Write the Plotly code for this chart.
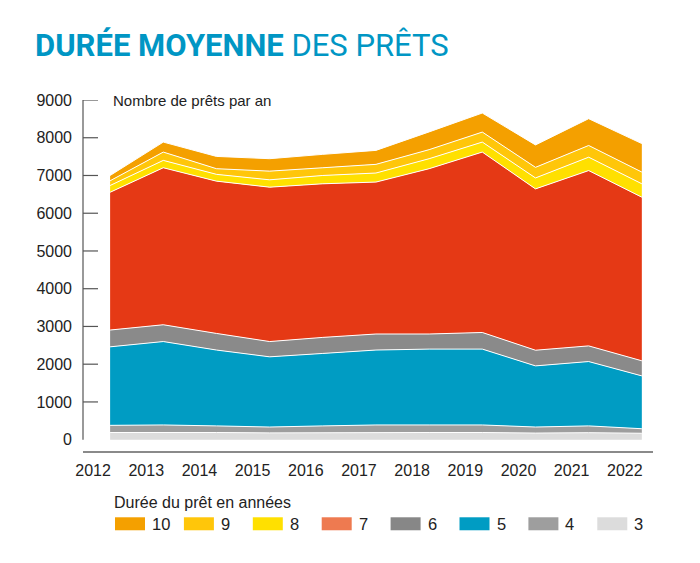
import plotly.graph_objects as go

years = [2012, 2013, 2014, 2015, 2016, 2017, 2018, 2019, 2020, 2021, 2022]
tick_labels = [str(y) for y in years]
y_ticks = [0, 1000, 2000, 3000, 4000, 5000, 6000, 7000, 8000, 9000]

# stacked layers, bottom to top (loan duration in years)
dur_3 = [190, 195, 190, 180, 190, 185, 190, 190, 175, 185, 170]
dur_4 = [190, 195, 175, 155, 175, 205, 200, 200, 160, 180, 120]
dur_5 = [2080, 2210, 2010, 1860, 1920, 1985, 2010, 2010, 1620, 1705, 1400]
dur_6 = [445, 445, 440, 405, 425, 425, 400, 440, 415, 415, 400]
dur_7 = [3650, 4160, 4035, 4090, 4070, 4025, 4380, 4780, 4275, 4645, 4335]
dur_8 = [180, 195, 180, 195, 220, 240, 265, 265, 290, 355, 355]
dur_9 = [125, 220, 150, 230, 205, 230, 240, 265, 280, 310, 310]
dur_10 = [140, 265, 325, 330, 355, 370, 470, 505, 595, 710, 755]

series_names = ["3", "4", "5", "6", "7", "8", "9", "10"]
series_values = [dur_3, dur_4, dur_5, dur_6, dur_7, dur_8, dur_9, dur_10]
area_colors = ["#DCDCDC", "#9E9E9E", "#009CC3", "#8A8A8A", "#E53915", "#FFE000", "#FFC60A", "#F4A000"]
legend_colors = ["#DCDCDC", "#9E9E9E", "#009CC3", "#878787", "#EE7A50", "#FFE000", "#FFC60A", "#F4A000"]

FONT = "Liberation Sans, Arial, sans-serif"
PAGE = 8  # default page margin around the figure
W, H = 700 - PAGE, 563 - PAGE
ML, MR, MT, MB = 75, 47, 91.6, 112.3
PW = W - ML - MR
PH = H - MT - MB

def px_x(px):
    return (px - PAGE - ML) / PW

def px_y(py):
    return (H - MB - (py - PAGE)) / PH

fig = go.Figure()
for name, vals, col in zip(series_names, series_values, area_colors):
    fig.add_trace(go.Scatter(
        x=years, y=vals, name=name, mode="lines", stackgroup="one",
        line=dict(color="white", width=1), fillcolor=col, showlegend=False,
    ))

shapes = []
# y axis line and ticks
shapes.append(dict(type="line", xref="x domain", yref="y", x0=0, x1=0, y0=0, y1=9000,
                   line=dict(color="#555555", width=1.2)))
for t in y_ticks[1:]:
    shapes.append(dict(type="line", xref="x domain", yref="y", x0=0, x1=15 / PW, y0=t, y1=t,
                       line=dict(color="#555555", width=1.2)))

annotations = [
    dict(text="Nombre de prêts par an", xref="paper", yref="paper", x=px_x(111), y=px_y(100),
         xanchor="left", yanchor="middle", showarrow=False, font=dict(family=FONT, size=15, color="#222222")),
    dict(text="Durée du prêt en années", xref="paper", yref="paper", x=px_x(112), y=px_y(502),
         xanchor="left", yanchor="middle", showarrow=False, font=dict(family=FONT, size=16, color="#222222")),
]

# manual legend, top series first
leg_order = list(range(len(series_names)))[::-1]
for i, k in enumerate(leg_order):
    x0 = 115 + i * 68.9
    shapes.append(dict(type="rect", xref="paper", yref="paper", x0=px_x(x0), x1=px_x(x0 + 30),
                       y0=px_y(530), y1=px_y(517), fillcolor=legend_colors[k], line=dict(width=0)))
    annotations.append(dict(text=series_names[k], xref="paper", yref="paper", x=px_x(x0 + 35), y=px_y(523.5),
                            xanchor="left", yanchor="middle", showarrow=False,
                            font=dict(family=FONT, size=16.5, color="#222222")))

fig.update_layout(
    width=W, height=H,
    margin=dict(l=ML, r=MR, t=MT, b=MB),
    paper_bgcolor="white", plot_bgcolor="white",
    title=dict(text="<b>DURÉE MOYENNE</b> DES PRÊTS", x=(35 - PAGE) / W, xanchor="left",
               y=1 - (45 - PAGE) / H, yanchor="middle", xref="container", yref="container",
               font=dict(family="Roboto, Arial, sans-serif", size=31, color="#0096C4")),
    xaxis=dict(range=[2011.49, 2022.21], tickvals=[y - 0.32 for y in years], ticktext=tick_labels,
               showgrid=False, zeroline=False, showline=True, linecolor="#8a8a8a", linewidth=1.5,
               ticks="", ticklabelstandoff=4, automargin=False,
               tickfont=dict(family=FONT, size=16, color="#222222")),
    yaxis=dict(range=[-300, 9000], tickvals=y_ticks, showgrid=False, zeroline=False, showline=False,
               ticks="", ticklabelstandoff=10, automargin=False,
               tickfont=dict(family=FONT, size=16, color="#222222")),
    shapes=shapes, annotations=annotations,
)

fig.write_html("out.html")
